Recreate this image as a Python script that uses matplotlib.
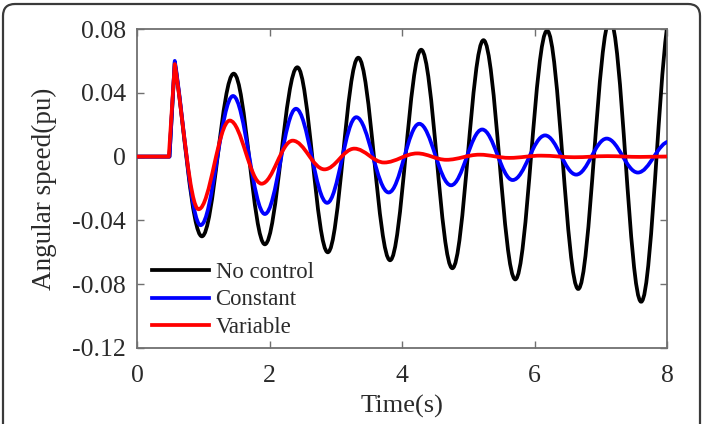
import matplotlib
matplotlib.use("Agg")
import matplotlib.pyplot as plt
from matplotlib.path import Path
from matplotlib.patches import PathPatch, FancyBboxPatch
from matplotlib.lines import Line2D

plt.rcParams['font.family'] = ['Liberation Serif', 'DejaVu Serif']

# Key points (time in s, angular speed in pu):
# flat start, fault spike, then successive troughs / peaks.
t_nocontrol = [0.0, 0.49, 0.57, 0.98, 1.46, 1.93, 2.42, 2.88, 3.34, 3.82, 4.29,
               4.76, 5.23, 5.71, 6.19, 6.66, 7.14, 7.61, 8.08]
v_nocontrol = [0.0, 0.0, 0.059, -0.050, 0.052, -0.055, 0.056, -0.060, 0.062, -0.065, 0.067,
               -0.070, 0.073, -0.077, 0.079, -0.083, 0.086, -0.091, 0.094]

t_constant = [0.0, 0.49, 0.57, 0.96, 1.45, 1.93, 2.40, 2.87, 3.31, 3.80, 4.26,
              4.74, 5.21, 5.67, 6.16, 6.63, 7.09, 7.56, 8.04]
v_constant = [0.0, 0.0, 0.060, -0.043, 0.038, -0.036, 0.030, -0.029, 0.0247, -0.0225, 0.0206,
              -0.018, 0.017, -0.0147, 0.0133, -0.0113, 0.0113, -0.010, 0.0095]

t_variable = [0.0, 0.48, 0.57, 0.93, 1.40, 1.88, 2.35, 2.83, 3.28, 3.73, 4.23,
              4.67, 5.17, 5.62, 6.10, 6.60, 7.10, 7.60, 8.05]
v_variable = [0.0, 0.0, 0.058, -0.033, 0.0226, -0.017, 0.010, -0.008, 0.005, -0.0037, 0.002,
              -0.002, 0.0012, -0.0008, 0.0006, -0.0004, 0.0003, -0.0002, 0.0001]

labels = ['No control', 'Constant', 'Variable']
colors = ['#000000', '#0000ff', '#ff0000']

x_ticks = [0, 2, 4, 6, 8]
y_ticks = [-0.12, -0.08, -0.04, 0, 0.04, 0.08]
y_ticklabels = ['-0.12', '-0.08', '-0.04', '0', '0.04', '0.08']


def curve_path(ts, vs):
    """Straight flat start and spike, then smooth Bezier arcs between extrema."""
    verts = [(ts[0], vs[0]), (ts[1], vs[1]), (ts[2], vs[2])]
    codes = [Path.MOVETO, Path.LINETO, Path.LINETO]
    a = 0.364
    for i in range(2, len(ts) - 1):
        t0, v0, t1, v1 = ts[i], vs[i], ts[i + 1], vs[i + 1]
        dt, dv = t1 - t0, v1 - v0
        if i == 2:
            c1 = (t0 + dt / 3.0, v0 + dv / 3.0)
        else:
            c1 = (t0 + a * dt, v0)
        c2 = (t1 - a * dt, v1)
        verts += [c1, c2, (t1, v1)]
        codes += [Path.CURVE4] * 3
    return Path(verts, codes)


fig = plt.figure(figsize=(7.23, 4.24), dpi=100)
ax = fig.add_axes([137 / 723, (424 - 348) / 424, 530 / 723, 319 / 424])

series = [(t_nocontrol, v_nocontrol), (t_constant, v_constant), (t_variable, v_variable)]
for k, ((ts, vs), col) in enumerate(zip(series, colors)):
    patch = PathPatch(curve_path(ts, vs), facecolor='none', edgecolor=col,
                      lw=2.7, zorder=2 + k, joinstyle='round', capstyle='round')
    ax.add_patch(patch)

ax.set_xlim(0, 8)
ax.set_ylim(-0.12, 0.08)
ax.set_xticks(x_ticks)
ax.set_xticklabels([str(x) for x in x_ticks])
ax.set_yticks(y_ticks)
ax.set_yticklabels(y_ticklabels)

spine_col = '#707070'
for s in ax.spines.values():
    s.set_color(spine_col)
    s.set_linewidth(1.3)
ax.tick_params(direction='in', length=5, width=1.0, color=spine_col,
               top=True, right=True, labelsize=18.5, labelcolor='#2a2a2a')
ax.tick_params(axis='x', pad=12)
ax.tick_params(axis='y', pad=8)

ax.set_xlabel('Time(s)', fontsize=19, color='#2a2a2a', va='center')
ax.xaxis.set_label_coords(0.5, -0.182)
ax.set_ylabel('Angular speed(pu)', fontsize=19.5, color='#2a2a2a', va='center')
ax.yaxis.set_label_coords(-0.175, 0.5)

handles = [Line2D([], [], color=c, lw=2.7) for c in colors]
leg = ax.legend(handles, labels, loc='upper left', bbox_to_anchor=(0.028, 0.270),
                frameon=False, fontsize=16.4, handlelength=2.5, handletextpad=0.3,
                labelspacing=0.29, borderpad=0, borderaxespad=0)
for txt in leg.get_texts():
    txt.set_color('#2a2a2a')

# rounded outer border
box = FancyBboxPatch((0.03, -0.2), 6.97, 4.40, boxstyle='round,pad=0,rounding_size=0.12',
                     transform=fig.dpi_scale_trans, facecolor='none',
                     edgecolor='#3a3a3a', lw=1.6)
fig.patches.append(box)

fig.savefig('out.png', dpi=100)
